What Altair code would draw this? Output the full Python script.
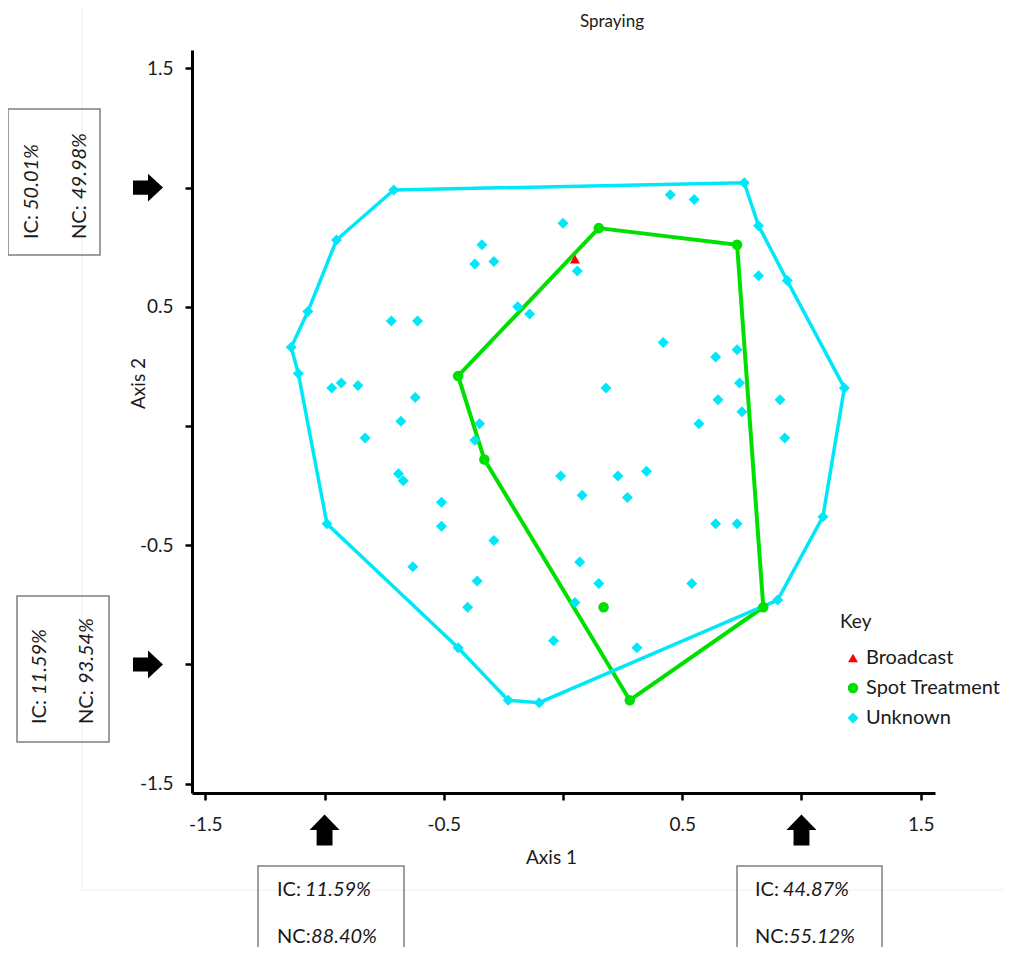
import altair as alt
import pandas as pd

FONT = "Lato"
TEXT = "#1a1a1a"
CYAN = "#00E8F8"
GREEN = "#00E000"
RED = "#FF0000"

# ---------------- data ----------------
# Unknown (cyan diamonds); first 15 are the hull vertices in drawing order
unknown_x = [-0.71, 0.76, 0.82, 0.94, 1.18, 1.09, 0.90, -0.10, -0.23, -0.44, -0.99, -1.11, -1.14, -1.07, -0.95,
             0.00, -0.34, -0.37, -0.29, 0.06, -0.19, -0.14, -0.72, -0.61, -0.97, -0.93, -0.86, -0.62, 0.18,
             -0.68, -0.35, -0.37, -0.83, -0.69, -0.67, -0.01, 0.23, 0.35, 0.08, 0.27, -0.51, -0.51, -0.29,
             0.07, -0.63, -0.36, 0.15, -0.40, 0.05, -0.04, 0.31, 0.45, 0.55, 0.82, 0.42, 0.64, 0.73, 0.74,
             0.65, 0.91, 0.75, 0.57, 0.93, 0.64, 0.73, 0.54]
unknown_y = [0.99, 1.02, 0.84, 0.61, 0.16, -0.38, -0.73, -1.16, -1.15, -0.93, -0.41, 0.22, 0.33, 0.48, 0.78,
             0.85, 0.76, 0.68, 0.69, 0.65, 0.50, 0.47, 0.44, 0.44, 0.16, 0.18, 0.17, 0.12, 0.16,
             0.02, 0.01, -0.06, -0.05, -0.20, -0.23, -0.21, -0.21, -0.19, -0.29, -0.30, -0.32, -0.42, -0.48,
             -0.57, -0.59, -0.65, -0.66, -0.76, -0.74, -0.90, -0.93, 0.97, 0.95, 0.63, 0.35, 0.29, 0.32, 0.18,
             0.11, 0.11, 0.06, 0.01, -0.05, -0.41, -0.41, -0.66]
unknown_hull = [0, 1, 2, 3, 4, 5, 6, 7, 8, 9, 10, 11, 12, 13, 14, 0]

# Spot Treatment (green circles)
spot_x = [0.15, 0.73, 0.84, 0.28, -0.33, -0.44, 0.17]
spot_y = [0.83, 0.76, -0.76, -1.15, -0.14, 0.21, -0.76]
spot_hull = [0, 1, 2, 3, 4, 5, 0]

# Broadcast (red triangle)
broadcast_x = [0.05]
broadcast_y = [0.70]

groups = ["Broadcast", "Spot Treatment", "Unknown"]
group_colors = [RED, GREEN, CYAN]
group_shapes = ["triangle-up", "circle", "diamond"]
group_sizes = [100, 121, 72]

tick_values = [-1.5, -1.0, -0.5, 0.0, 0.5, 1.0, 1.5]

# IC / NC annotation boxes
left_ic = ["50.01%", "11.59%"]
left_nc = ["49.98%", "93.54%"]
bottom_ic = ["11.59%", "44.87%"]
bottom_nc = ["88.40%", "55.12%"]
arrow_levels = [1.0, -1.0]

# ---------------- chart ----------------
W = H = 743
LBL = ("abs(datum.value) == 0.5 || abs(datum.value) == 1.5 ? "
       "(datum.value < 0 ? '-' : '') + format(abs(datum.value), '.1f') : ''")

common_axis = dict(values=tick_values, labelExpr=LBL, grid=False, domainColor="black", domainWidth=3,
                   tickColor="black", tickWidth=2.5, tickSize=7, labelFont=FONT, labelFontSize=19,
                   labelColor=TEXT, labelFlush=False, labelOverlap=False, titleFont=FONT, titleFontSize=19,
                   titleFontWeight="normal", titleColor=TEXT, titleBaseline="middle", titleAlign="center")

X = alt.X("x:Q", scale=alt.Scale(domain=[-1.556, 1.56], nice=False, zero=False),
          axis=alt.Axis(title="Axis 1", labelPadding=15, titleX=359, titleY=64, **common_axis))
Y = alt.Y("y:Q", scale=alt.Scale(domain=[-1.539, 1.577], nice=False, zero=False),
          axis=alt.Axis(title="Axis 2", labelPadding=12, titleX=-54, titleY=333, **common_axis))


def hull_df(xs, ys, order):
    return pd.DataFrame({"x": [xs[i] for i in order], "y": [ys[i] for i in order],
                         "o": list(range(len(order)))})


spot_line = alt.Chart(hull_df(spot_x, spot_y, spot_hull)).mark_line(
    color=GREEN, strokeWidth=4).encode(x=X, y=Y, order="o:Q")
unknown_line = alt.Chart(hull_df(unknown_x, unknown_y, unknown_hull)).mark_line(
    color=CYAN, strokeWidth=3.5).encode(x=X, y=Y, order="o:Q")

pts = pd.DataFrame({
    "x": unknown_x + spot_x + broadcast_x,
    "y": unknown_y + spot_y + broadcast_y,
    "group": ["Unknown"] * len(unknown_x) + ["Spot Treatment"] * len(spot_x) + ["Broadcast"] * len(broadcast_x),
})

legend = alt.Legend(title="Key", orient="none", legendX=648, legendY=563, titleFont=FONT, titleFontSize=19,
                    titleFontWeight="normal", titleColor=TEXT, labelFont=FONT, labelFontSize=20,
                    labelColor=TEXT, rowPadding=10, titlePadding=16, padding=0, symbolOffset=3,
                    labelOffset=3, symbolStrokeWidth=0)

points = alt.Chart(pts).mark_point(filled=True, opacity=1, strokeWidth=0).encode(
    x=X, y=Y,
    color=alt.Color("group:N", scale=alt.Scale(domain=groups, range=group_colors), legend=legend),
    shape=alt.Shape("group:N", scale=alt.Scale(domain=groups, range=group_shapes), legend=legend),
    size=alt.Size("group:N", scale=alt.Scale(domain=groups, range=group_sizes), legend=legend),
)

RIGHT = "M-1,-0.47L0,-0.47L0,-0.93L1,0L0,0.93L0,0.47L-1,0.47Z"
UP = "M-0.53,1.03L-0.53,0L-1,0L0,-1.03L1,0L0.53,0L0.53,1.03Z"

right_arrows = alt.Chart(pd.DataFrame({"y": arrow_levels})).mark_point(
    shape=RIGHT, filled=True, color="black", opacity=1, size=900, strokeWidth=0).encode(
    x=alt.value(-44), y=Y)
up_arrows = alt.Chart(pd.DataFrame({"x": arrow_levels[::-1]})).mark_point(
    shape=UP, filled=True, color="black", opacity=1, size=900, strokeWidth=0).encode(
    x=X, y=alt.value(780))


def frame_rule(x1, x2, y1, y2):
    return alt.Chart(pd.DataFrame({"a": [0]})).mark_rule(color="#eeeeee", strokeWidth=1).encode(
        x=alt.value(x1), x2=alt.value(x2), y=alt.value(y1), y2=alt.value(y2))


def box(x1, x2, y1, y2):
    return alt.Chart(pd.DataFrame({"a": [0]})).mark_rect(
        fill="white", fillOpacity=0, stroke="#7f7f7f", strokeWidth=1.5).encode(
        x=alt.value(x1), x2=alt.value(x2), y=alt.value(y1), y2=alt.value(y2))


def txt(s, px, py, italic=False, angle=0, size=20, align="left"):
    return alt.Chart(pd.DataFrame({"t": [s]})).mark_text(
        align=align, baseline="middle", font=FONT, fontSize=size,
        fontStyle="italic" if italic else "normal", angle=angle, color=TEXT).encode(
        x=alt.value(px), y=alt.value(py), text="t:N")


frame = [frame_rule(-110, -110, -50, 840), frame_rule(-110, 819, 840, 840)]

annos = [
    box(-184, -92, 59, 205), box(-175, -83, 546, 692),
    box(66, 212, 816, 930), box(545, 690, 816, 930),
    txt("Spraying", 420, -28, size=17, align="center"),
    # left box 1
    txt("IC:", -160.5, 189, angle=270), txt(left_ic[0], -160.5, 160, italic=True, angle=270),
    txt("NC:", -112.5, 189, angle=270), txt(left_nc[0], -112.5, 149, italic=True, angle=270),
    # left box 2
    txt("IC:", -152.5, 674, angle=270), txt(left_ic[1], -152.5, 645, italic=True, angle=270),
    txt("NC:", -105, 674, angle=270), txt(left_nc[1], -105, 634, italic=True, angle=270),
    # bottom boxes
    txt("IC:", 85, 840), txt(bottom_ic[0], 113, 840, italic=True),
    txt("NC:", 85, 887), txt(bottom_nc[0], 119, 887, italic=True),
    txt("IC:", 563, 840), txt(bottom_ic[1], 591, 840, italic=True),
    txt("NC:", 563, 887), txt(bottom_nc[1], 597, 887, italic=True),
]

chart = alt.layer(*frame, spot_line, unknown_line, points, right_arrows, up_arrows, *annos).properties(
    width=W, height=H,
    autosize=alt.AutoSizeParams(type="none"),
    padding={"left": 184, "top": 42, "right": 68, "bottom": 154},
    background="white",
).configure_view(stroke=None)

chart.save("out.html", embed_options={"renderer": "svg", "actions": False})
